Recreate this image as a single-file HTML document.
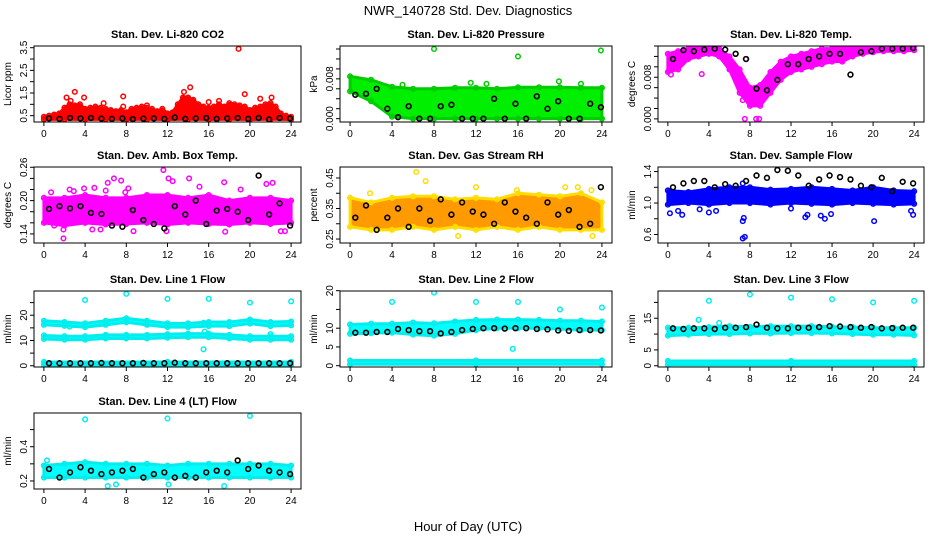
<!DOCTYPE html>
<html><head><meta charset="utf-8"><style>
html,body{margin:0;padding:0;background:#fff;}
svg{display:block;font-family:"Liberation Sans",sans-serif;}
</style></head><body>
<svg id="chart" width="936" height="540" viewBox="0 0 936 540">
<text x="468" y="15" text-anchor="middle" font-size="13">NWR_140728  Std. Dev. Diagnostics</text>
<text x="468" y="531" text-anchor="middle" font-size="13">Hour of Day (UTC)</text>
</svg>
<script>
// ---- data (hours 0..24 spread evenly over each array) ----
const xTicks=[0,4,8,12,16,20,24];
const co2Lo=[0.33,0.34,0.33,0.34,0.33,0.34,0.33,0.34,0.33,0.34,0.33,0.34,0.33];
const co2Hi=[0.45,0.5,0.55,0.6,0.85,1.0,0.95,1.0,0.8,0.85,0.9,0.85,0.8,0.75,0.7,0.75,0.65,0.8,0.85,0.9,0.85,0.8,0.7,0.8,0.6,0.65,1.0,1.3,1.3,1.2,1.0,0.9,0.85,0.9,1.0,0.9,1.05,1.0,0.95,0.9,0.75,0.85,0.9,1.0,1.05,0.9,0.6,0.5,0.45];
const co2Out=[[2.2,1.3],[3,1.55],[3.9,1.3],[2.6,1.15],[5.8,1.05],[7.7,1.35],[7.7,0.9],[10,0.95],[13.6,1.55],[14.2,1.75],[16,1.1],[17,1.15],[19.5,1.45],[21,1.25],[22.1,1.3],[18.9,3.45]];
const co2Blk=[0.38,0.36,0.4,0.38,0.4,0.37,0.36,0.38,0.35,0.37,0.38,0.36,0.42,0.36,0.38,0.4,0.36,0.38,0.4,0.36,0.4,0.33,0.4,0.38];
const prLo=[0.0055,0.0035,0.0004,0,0,0,0,0,0,0,0,0,0];
const prHi=[0.0085,0.0078,0.0064,0.006,0.006,0.0062,0.0062,0.006,0.0063,0.0063,0.0063,0.0062,0.0062];
const prOut=[[8,0.014],[16,0.0125],[23.9,0.0137],[5,0.0068],[11.5,0.0072],[19.9,0.0075],[13,0.007],[22,0.007]];
const prBlk=[0.0048,0.005,0.006,0.002,0.0003,0.0025,0,0,0.0025,0.0028,0,0,0,0.004,0,0.003,0,0.0045,0.002,0.0035,0,0,0.003,0.0023];
const tpLo=[0.009,0.0095,0.0115,0.012,0.0125,0.012,0.0095,0.005,0.0025,0.0025,0.005,0.0075,0.009,0.0095,0.01,0.0105,0.011,0.011,0.012,0.0125,0.0128,0.013,0.013,0.013,0.0132];
const tpHi=[0.0125,0.013,0.0135,0.014,0.014,0.0135,0.012,0.0095,0.006,0.0065,0.009,0.011,0.012,0.0125,0.013,0.0135,0.0135,0.014,0.014,0.014,0.014,0.014,0.014,0.014,0.014];
const tpOut=[[7.5,0],[8.6,0],[8.9,0],[3.3,0.0086],[7.3,0.0036],[7.6,0.0115],[0.3,0.0085]];
const tpBlk=[0.0115,0.0132,0.013,0.0133,0.0135,0.0133,0.0125,0.0115,0.0058,0.0055,0.0075,0.0105,0.0105,0.0115,0.012,0.0125,0.0125,0.0085,0.0128,0.013,0.0135,0.0135,0.0135,0.0136];
const abLo=[0.16,0.155,0.16,0.157,0.158,0.16,0.157,0.16,0.158,0.157,0.16,0.158,0.16];
const abHi=[0.205,0.205,0.21,0.205,0.205,0.21,0.21,0.205,0.21,0.2,0.205,0.205,0.2];
const abOut=[[0.7,0.215],[1,0.155],[1.9,0.132],[1.9,0.148],[2.9,0.217],[3.9,0.222],[4.9,0.223],[5.5,0.148],[6,0.218],[6.2,0.232],[6.8,0.24],[7.5,0.236],[7.9,0.215],[8.2,0.222],[8.7,0.145],[11.6,0.255],[12.1,0.24],[12.5,0.235],[11.9,0.145],[14.1,0.24],[15.1,0.225],[17.5,0.233],[17.6,0.144],[19.1,0.22],[21.6,0.23],[22.2,0.232],[23,0.145],[23.4,0.145],[2.5,0.22],[4.7,0.148]];
const abBlk=[0.185,0.19,0.186,0.19,0.178,0.176,0.155,0.153,0.183,0.165,0.158,0.15,0.19,0.175,0.2,0.158,0.182,0.185,0.18,0.165,0.245,0.175,0.195,0.155];
const rhLo=[0.29,0.28,0.28,0.29,0.28,0.29,0.28,0.29,0.28,0.29,0.28,0.28,0.28];
const rhHi=[0.385,0.37,0.385,0.39,0.39,0.38,0.385,0.38,0.4,0.395,0.39,0.4,0.37];
const rhOut=[[6.3,0.47],[7.2,0.44],[1.9,0.4],[12,0.42],[15.9,0.41],[20.5,0.42],[21.7,0.42],[23.1,0.26],[23,0.41],[10.3,0.26]];
const rhBlk=[0.32,0.36,0.28,0.32,0.35,0.29,0.35,0.31,0.38,0.33,0.37,0.34,0.33,0.3,0.37,0.34,0.32,0.3,0.37,0.33,0.345,0.29,0.3,0.42];
const sfLo=[0.98,1.0,0.98,1.0,1.0,0.98,1.0,0.99,0.98,1.0,0.99,0.98,0.99];
const sfHi=[1.16,1.14,1.18,1.2,1.2,1.17,1.18,1.2,1.18,1.16,1.2,1.16,1.15];
const sfOut=[[0.2,0.87],[1,0.9],[1.4,0.85],[3.1,0.92],[4,0.88],[4.7,0.9],[7.3,0.77],[7.4,0.81],[7.3,0.55],[7.5,0.57],[7.3,1.25],[12,0.93],[13.4,0.82],[13.6,0.85],[14.9,0.84],[15.3,0.8],[15.9,0.86],[20.1,0.77],[23.9,0.85],[23.7,0.9]];
const sfBlk=[1.2,1.25,1.28,1.28,1.2,1.24,1.22,1.28,1.35,1.32,1.42,1.41,1.35,1.22,1.3,1.35,1.33,1.3,1.22,1.2,1.32,1.15,1.27,1.25];
const l1aLo=[16.2,15.8,15.3,16.2,17.2,16.2,15.3,15.3,15.7,15.7,16.7,15.7,16];
const l1aHi=[17.8,17.3,16.8,17.8,18.8,17.8,16.8,16.8,17.3,17.3,18.3,17.3,17.5];
const l1bLo=[10.6,10.3,10.3,10.8,10.8,10.8,11.1,11.3,11.3,10.8,10.3,10.3,10.3];
const l1bHi=[12,11.7,11.7,12.2,12.2,12.2,12.5,12.7,12.7,12.2,11.7,11.7,11.7];
const l1cLo=[0.3,0.3,0.3];
const l1cHi=[1.5,1.5,1.5];
const l1Out=[[4,26],[8,28.5],[12,26.5],[16,26.5],[20,25],[24,25.5],[15.5,6.5],[15.5,17],[2.5,15.5],[22,12.5],[15.6,13.5]];
const l1Blk=[1,1,1,1,1,1.1,1,1,1,1.1,1,1,1.2,1,1,1,1,1,1,1,1,1,1,1];
const l2aLo=[8.5,8.7,8.8,8.3,8,8.5,9.5,10,10,10,9.8,9.5,9.5];
const l2aHi=[11,11.2,11.2,11.5,11.3,11.8,12.2,12.3,12.3,12.2,12,12,11.8];
const l2cLo=[0.4,0.4,0.4];
const l2cHi=[1.4,1.4,1.4];
const l2Out=[[4,17],[8,19.5],[12,17],[16,17],[20,15],[24,15.5],[15.5,4.5]];
const l2Blk=[8.8,8.8,9,9,9.8,9.5,9.2,9.2,8.6,9,9.5,9.8,10,10,9.9,10,10,9.8,9.7,9.4,9.3,9.5,9.5,9.4];
const l3aLo=[9.5,9.8,10,10,10.2,10.2,10.3,10.3,10.2,10,9.8,9.8,9.6];
const l3aHi=[12,12,12.2,12.5,12.3,12.5,12.5,12.5,12.3,12.2,12,12,12];
const l3cLo=[0.3,0.3,0.3];
const l3cHi=[1.5,1.5,1.5];
const l3Out=[[3,14.5],[4,20.5],[8,22.5],[12,21.5],[16,21],[20,20],[24,20.5],[5,13.5]];
const l3Blk=[11.8,11.6,11.8,11.8,11.6,12,12,12.2,13,12,11.8,11.8,12,12,12.2,12.5,12.4,12.2,12,12.2,11.8,11.9,12,12];
const l4Lo=[0.22,0.22,0.22,0.22,0.22,0.22,0.22,0.22,0.22,0.22,0.22,0.22,0.22];
const l4Hi=[0.29,0.3,0.31,0.3,0.3,0.3,0.29,0.3,0.3,0.3,0.3,0.3,0.29];
const l4Out=[[0.3,0.32],[4,0.56],[12,0.565],[20,0.58],[6.2,0.17],[17.5,0.17],[12.1,0.18],[7,0.18]];
const l4Blk=[0.27,0.22,0.25,0.28,0.26,0.24,0.25,0.26,0.27,0.22,0.24,0.25,0.22,0.23,0.22,0.25,0.26,0.25,0.32,0.27,0.29,0.26,0.25,0.24];

// ---- panel configs ----
const panels=[
 {name:'co2',title:'Stan. Dev. Li-820 CO2',yl:'Licor ppm',col:0,row:0,y0:0.22,y1:3.575,ticks:[0.5,1,1.5,2,2.5,3,3.5],labs:[0.5,1.5,2.5,3.5],dec:1,bands:[[co2Lo,co2Hi,'#ff0000','#ff0000']],out:co2Out,blk:co2Blk},
 {name:'pressure',title:'Stan. Dev. Li-820 Pressure',yl:'kPa',col:1,row:0,y0:-0.00067,y1:0.0146,ticks:[0,0.002,0.004,0.006,0.008,0.01,0.012,0.014],labs:[0,0.008],dec:3,bands:[[prLo,prHi,'#00ee00','#00cc00']],out:prOut,blk:prBlk},
 {name:'temp',title:'Stan. Dev. Li-820 Temp.',yl:'degrees C',col:2,row:0,y0:-0.0006,y1:0.014,ticks:[0,0.002,0.004,0.006,0.008,0.01,0.012,0.014],labs:[0,0.008],dec:3,bands:[[tpLo,tpHi,'#ff00ff','#ff00ff']],out:tpOut,blk:tpBlk},
 {name:'ambbox',title:'Stan. Dev. Amb. Box Temp.',yl:'degrees C',col:0,row:1,y0:0.1237,y1:0.2605,ticks:[0.14,0.16,0.18,0.2,0.22,0.24,0.26],labs:[0.14,0.2,0.26],dec:2,bands:[[abLo,abHi,'#ff00ff','#ff00ff']],out:abOut,blk:abBlk},
 {name:'rh',title:'Stan. Dev. Gas Stream RH',yl:'percent',col:1,row:1,y0:0.237,y1:0.486,ticks:[0.25,0.3,0.35,0.4,0.45],labs:[0.25,0.35,0.45],dec:2,bands:[[rhLo,rhHi,'#ff9a00','#ffdd00']],out:rhOut,blk:rhBlk},
 {name:'sampleflow',title:'Stan. Dev. Sample Flow',yl:'ml/min',col:2,row:1,y0:0.492,y1:1.458,ticks:[0.6,0.8,1.0,1.2,1.4],labs:[0.6,1.0,1.4],dec:1,bands:[[sfLo,sfHi,'#0000ff','#0000ff']],out:sfOut,blk:sfBlk},
 {name:'line1',title:'Stan. Dev. Line 1 Flow',yl:'ml/min',col:0,row:2,y0:-0.5,y1:29.6,ticks:[0,5,10,15,20,25],labs:[0,10,20],dec:0,bands:[[l1aLo,l1aHi,'#00ffff','#00eeee'],[l1bLo,l1bHi,'#00ffff','#00eeee'],[l1cLo,l1cHi,'#00ffff','#00eeee']],out:l1Out,blk:l1Blk},
 {name:'line2',title:'Stan. Dev. Line 2 Flow',yl:'ml/min',col:1,row:2,y0:-0.35,y1:19.92,ticks:[0,5,10,15,20],labs:[0,5,10,20],dec:0,bands:[[l2aLo,l2aHi,'#00ffff','#00eeee'],[l2cLo,l2cHi,'#00ffff','#00eeee']],out:l2Out,blk:l2Blk},
 {name:'line3',title:'Stan. Dev. Line 3 Flow',yl:'ml/min',col:2,row:2,y0:-0.4,y1:23.6,ticks:[0,5,10,15,20],labs:[0,5,15],dec:0,bands:[[l3aLo,l3aHi,'#00ffff','#00eeee'],[l3cLo,l3cHi,'#00ffff','#00eeee']],out:l3Out,blk:l3Blk},
 {name:'line4',title:'Stan. Dev. Line 4 (LT) Flow',yl:'ml/min',col:0,row:3,y0:0.153,y1:0.597,ticks:[0.2,0.3,0.4,0.5],labs:[0.2,0.4],dec:1,bands:[[l4Lo,l4Hi,'#00ffff','#00eeee']],out:l4Out,blk:l4Blk}
];
const colsX=[[34,301],[340,612],[658,924]];
const rowsY=[46,167,291,413];
const NS='http://www.w3.org/2000/svg';
const svg=document.getElementById('chart');
function mk(tag,attrs,parent){const e=document.createElementNS(NS,tag);for(const k in attrs)e.setAttribute(k,attrs[k]);(parent||svg).appendChild(e);return e;}

panels.forEach(p=>{
 const L=colsX[p.col][0],R=colsX[p.col][1],T=rowsY[p.row],B=T+76;
 const sx=h=>L+(h+0.96)/25.92*(R-L);
 const sy=v=>B-(v-p.y0)/(p.y1-p.y0)*(B-T);
 const xOf=(i,n)=>i*24/(n-1);
 const g=mk('g',{});
 
 
 const clip=mk('clipPath',{id:'c'+p.name},g);mk('rect',{x:L,y:T,width:R-L,height:B-T},clip);
 const t=mk('text',{x:(L+R)/2,y:T-8,'text-anchor':'middle','font-size':'11','font-weight':'bold'},g);t.textContent=p.title;
 
 
 const yl=mk('text',{x:0,y:0,'text-anchor':'middle','font-size':'10',transform:`translate(${L-23},${(T+B)/2}) rotate(-90)`},g);yl.textContent=p.yl;
 
 
 const data=mk('g',{'clip-path':`url(#c${p.name})`},g);
 
 
 p.bands.forEach(b=>{
  const lo=b[0],hi=b[1];
  let pts=hi.map((v,i)=>sx(xOf(i,hi.length))+','+sy(v));
  pts=pts.concat(lo.map((v,i)=>sx(xOf(i,lo.length))+','+sy(v)).reverse());
  const poly=mk('polygon',{points:pts.join(' '),fill:b[2],stroke:b[3],'stroke-width':3,'stroke-linejoin':'round'},data);
  
  
  [lo,hi].forEach(arr=>arr.forEach((v,i)=>{
   const c=mk('circle',{cx:sx(xOf(i,arr.length)),cy:sy(v),r:2.3,fill:'none',stroke:b[3],'stroke-width':1.5},data);
   
   
  }));
 });
 p.out.forEach(o=>{
  const c=mk('circle',{cx:sx(o[0]),cy:sy(o[1]),r:2.3,fill:'none',stroke:p.bands[0][3],'stroke-width':1.5},data);
  
  
 });
 p.blk.forEach((v,i)=>{
  const h=0.5+i*(23.4/(p.blk.length-1));
  const c=mk('circle',{cx:sx(h),cy:sy(v),r:2.4,fill:'none',stroke:'#000','stroke-width':1.6},data);
  
  
 });
 const box=mk('rect',{x:L,y:T,width:R-L,height:B-T,fill:'none',stroke:'#000','stroke-width':1},g);
 
 
 mk('line',{x1:sx(0),x2:sx(24),y1:B,y2:B,stroke:'#000'},g);
 xTicks.forEach(h=>{
  mk('line',{x1:sx(h),x2:sx(h),y1:B,y2:B+4,stroke:'#000'},g);
  const tx=mk('text',{x:sx(h),y:B+15,'text-anchor':'middle','font-size':'10'},g);tx.textContent=h;
  
  
 });
 p.ticks.forEach(v=>{mk('line',{x1:L-4,x2:L,y1:sy(v),y2:sy(v),stroke:'#000'},g);});
 p.labs.forEach(v=>{
  const tx=mk('text',{x:0,y:0,'text-anchor':'middle','font-size':'10',transform:`translate(${L-7},${sy(v)}) rotate(-90)`},g);
  tx.textContent=v.toFixed(p.dec);
  
  
 });
});
</script>
</body></html>
